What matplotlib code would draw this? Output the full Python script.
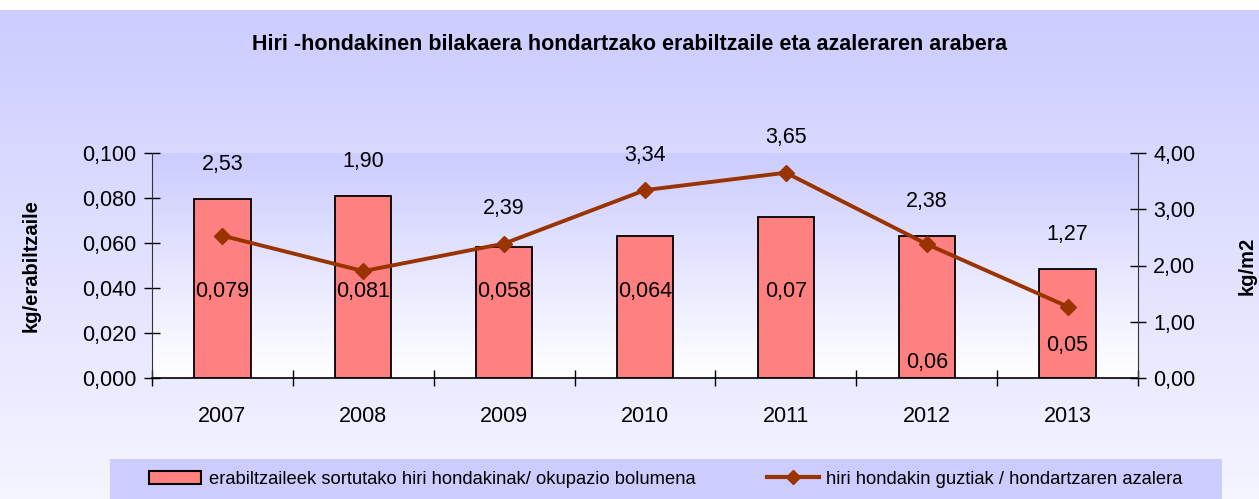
import numpy as np
import matplotlib
matplotlib.use('Agg')
import matplotlib.pyplot as plt
from matplotlib.patches import Patch, Rectangle
from matplotlib.lines import Line2D

plt.rcParams['font.family'] = ['Liberation Sans', 'DejaVu Sans']

years = ['2007', '2008', '2009', '2010', '2011', '2012', '2013']
per_user = [0.0796, 0.081, 0.0582, 0.0631, 0.0716, 0.0632, 0.0484]
per_user_labels = ['0,079', '0,081', '0,058', '0,064', '0,07', '0,06', '0,05']
per_area = [2.53, 1.90, 2.39, 3.34, 3.65, 2.38, 1.27]
per_area_labels = ['2,53', '1,90', '2,39', '3,34', '3,65', '2,38', '1,27']

bar_col = '#FF8080'
line_col = '#993300'
lav = np.array([0.80, 0.80, 1.0])
W, H = 1259, 499

fig = plt.figure(figsize=(12.59, 4.99), dpi=100)
fig.patch.set_facecolor('white')

# background gradient of the chart area
bg = fig.add_axes([0, 0, 1, 1 - 10 / H], zorder=-5)
g = np.linspace(0, 1, 256)[:, None, None]
bot = np.array([0.96, 0.96, 1.0])
img = lav * (1 - g) + bot * g
bg.imshow(img, aspect='auto', extent=[0, 1, 0, 1])
bg.axis('off')

# legend band
fig.patches.append(Rectangle((110 / W, 0), (1222 - 110) / W, 1 - 459 / H, transform=fig.transFigure,
                             facecolor=lav, edgecolor='none', zorder=-1))

ax = fig.add_axes([152 / W, 1 - 378 / H, (1138 - 152) / W, (378 - 153) / H])
ax.patch.set_alpha(0)
x = np.arange(len(years))
ax.set_xlim(-0.5, len(years) - 0.5)
ax.set_ylim(0, 0.1)

# plot area gradient
pg = np.linspace(0, 1, 256)[:, None, None]
pimg = lav * (1 - pg) + np.array([1.0, 1.0, 1.0]) * pg
ax.imshow(pimg, aspect='auto', extent=[-0.5, len(years) - 0.5, 0, 0.1], zorder=0)

ax.bar(x, per_user, width=0.4, color=bar_col, edgecolor='black', linewidth=1.3, zorder=2)
lab_y = [0.0385, 0.0385, 0.0385, 0.0385, 0.0385, 0.0068, 0.0145]
for xi, ly, t in zip(x, lab_y, per_user_labels):
    ax.text(xi, ly, t, ha='center', va='center', fontsize=15.5, zorder=5)

ax.set_yticks(np.arange(0, 0.101, 0.02))
ax.set_yticklabels(['0,000', '0,020', '0,040', '0,060', '0,080', '0,100'])
ax.set_xticks(x)
ax.set_xticklabels(years)
ax.set_xticks(np.arange(-0.5, len(years) + 0.5, 1), minor=True)
ax.tick_params(axis='x', which='major', length=0, labelsize=15.5, pad=20)
ax.tick_params(axis='x', which='minor', direction='inout', length=12, width=1)
ax.tick_params(axis='y', direction='inout', length=12, width=1, labelsize=15.5, pad=5)
for s in ['top', 'right']:
    ax.spines[s].set_visible(False)
ax.spines['left'].set_color('#333333')
ax.spines['bottom'].set_linewidth(1.2)
ax.set_ylabel('kg/erabiltzaile', fontsize=14.5, fontweight='bold', labelpad=30)

ax2 = ax.twinx()
ax2.set_ylim(0, 4)
ax2.set_xlim(-0.5, len(years) - 0.5)
ax2.plot(x, per_area, color=line_col, linewidth=2.8, marker='D', markersize=8, zorder=4)
ax2.set_yticks(np.arange(0, 4.01, 1))
ax2.set_yticklabels(['0,00', '1,00', '2,00', '3,00', '4,00'])
ax2.tick_params(axis='y', direction='inout', length=12, width=1, labelsize=15.5, pad=5)
for s in ['top', 'left', 'bottom']:
    ax2.spines[s].set_visible(False)
ax2.spines['right'].set_color('#333333')
ax2.set_ylabel('kg/m2', fontsize=14.5, fontweight='bold', labelpad=30)
for xi, v, bh, t in zip(x, per_area, per_user, per_area_labels):
    base = max(v, bh * 40)
    ax2.annotate(t, (xi, base), xytext=(0, 25), textcoords='offset points',
                 ha='center', va='center', fontsize=15.5)

fig.text(0.5, 1 - 45 / H, 'Hiri -hondakinen bilakaera hondartzako erabiltzaile eta azaleraren arabera',
         ha='center', va='center', fontsize=15.5, fontweight='bold')

handles = [Patch(facecolor=bar_col, edgecolor='black', linewidth=1.5),
           Line2D([0], [0], color=line_col, linewidth=3, marker='D', markersize=7)]
leg = fig.legend(handles, ['erabiltzaileek sortutako hiri hondakinak/ okupazio bolumena',
                           'hiri hondakin guztiak / hondartzaren azalera'],
                 loc='center left', bbox_to_anchor=(149 / W, 1 - 479 / H), ncol=2, frameon=False,
                 fontsize=13.2, columnspacing=3.9, handlelength=2.85, handletextpad=0.4,
                 borderpad=0, borderaxespad=0)

fig.savefig('out.png', dpi=100)
